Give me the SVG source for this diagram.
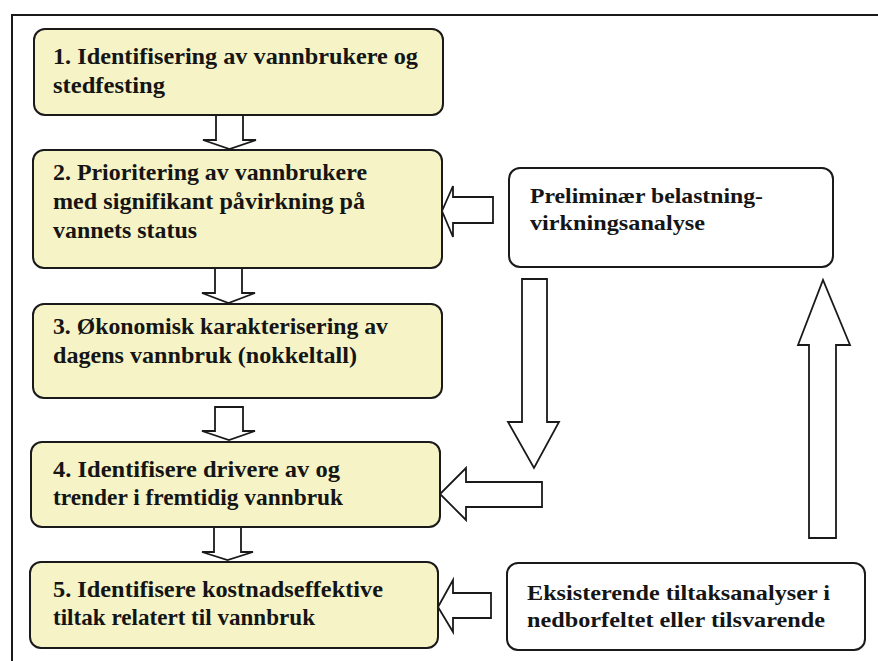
<svg xmlns="http://www.w3.org/2000/svg" width="878" height="661" viewBox="0 0 878 661">
<style>
.box{fill:#f6f4c6;stroke:#1a1a1a;stroke-width:2}
.wbox{fill:#ffffff;stroke:#1a1a1a;stroke-width:2}
.arr{fill:#ffffff;stroke:#1a1a1a;stroke-width:1.8;stroke-linejoin:miter}
</style>
<rect x="0" y="0" width="878" height="661" fill="#ffffff"/>
<path d="M12 661 V15 H878" fill="none" stroke="#1a1a1a" stroke-width="2"/>
<g id="connectors">
<polygon class="arr" points="216,115 243,115 243,140 256,140 229.5,149 203,140 216,140"/>
<polygon class="arr" points="215,268 242,268 242,293 255,293 228.5,303 202,293 215,293"/>
<polygon class="arr" points="215,407 243,407 243,431 255,431 229,440 202,431 215,431"/>
<polygon class="arr" points="214,527 241,527 241,552 253,552 227.5,560 202,552 214,552"/>
<polygon class="arr" points="493,197 493,223 453,223 453,237 442,211 453,186 453,197"/>
<polygon class="arr" points="522,279 547,279 547,422 559,422 534,468 508,422 522,422"/>
<polygon class="arr" points="542,482 542,507 466,507 466,520 440,494 466,468 466,482"/>
<polygon class="arr" points="809,538 836,538 836,345 850,345 823,280 798,345 809,345"/>
<polygon class="arr" points="491,593 491,618 453,618 453,632 438,607 453,580 453,593"/>
</g>
<g font-family="'Liberation Serif', 'Times New Roman', serif" font-weight="bold" font-size="23" fill="#151515">
<g id="n1">
<rect class="box" x="34" y="29" width="409" height="86" rx="11"/>
<text x="53" y="64" textLength="365" lengthAdjust="spacingAndGlyphs">1. Identifisering av vannbrukere og</text>
<text x="53" y="93" textLength="112" lengthAdjust="spacingAndGlyphs">stedfesting</text>
</g>
<g id="n2">
<rect class="box" x="33" y="150" width="409" height="118" rx="11"/>
<text x="53" y="180" textLength="314" lengthAdjust="spacingAndGlyphs">2. Prioritering av vannbrukere</text>
<text x="53" y="209" textLength="312" lengthAdjust="spacingAndGlyphs">med signifikant påvirkning på</text>
<text x="53" y="238" textLength="144" lengthAdjust="spacingAndGlyphs">vannets status</text>
</g>
<g id="n3">
<rect class="box" x="33" y="304" width="409" height="94" rx="11"/>
<text x="53" y="334" textLength="335" lengthAdjust="spacingAndGlyphs">3. Økonomisk karakterisering av</text>
<text x="53" y="363" textLength="304" lengthAdjust="spacingAndGlyphs">dagens vannbruk (nokkeltall)</text>
</g>
<g id="n4">
<rect class="box" x="31" y="442" width="409" height="85" rx="11"/>
<text x="53" y="477" textLength="287" lengthAdjust="spacingAndGlyphs">4. Identifisere drivere av og</text>
<text x="53" y="505" textLength="290" lengthAdjust="spacingAndGlyphs">trender i fremtidig vannbruk</text>
</g>
<g id="n5">
<rect class="box" x="30" y="562" width="408" height="86" rx="11"/>
<text x="53" y="597" textLength="330" lengthAdjust="spacingAndGlyphs">5. Identifisere kostnadseffektive</text>
<text x="53" y="625" textLength="262" lengthAdjust="spacingAndGlyphs">tiltak relatert til vannbruk</text>
</g>
<g id="prelim" font-size="22">
<rect class="wbox" x="509" y="168" width="324" height="99" rx="11"/>
<text x="530" y="203" textLength="233" lengthAdjust="spacingAndGlyphs">Preliminær belastning-</text>
<text x="530" y="230" textLength="175" lengthAdjust="spacingAndGlyphs">virkningsanalyse</text>
</g>
<g id="eksist" font-size="22">
<rect class="wbox" x="507" y="563" width="358" height="87" rx="11"/>
<text x="527" y="600" textLength="303" lengthAdjust="spacingAndGlyphs">Eksisterende tiltaksanalyser i</text>
<text x="527" y="627" textLength="298" lengthAdjust="spacingAndGlyphs">nedborfeltet eller tilsvarende</text>
</g>
</g>
</svg>
